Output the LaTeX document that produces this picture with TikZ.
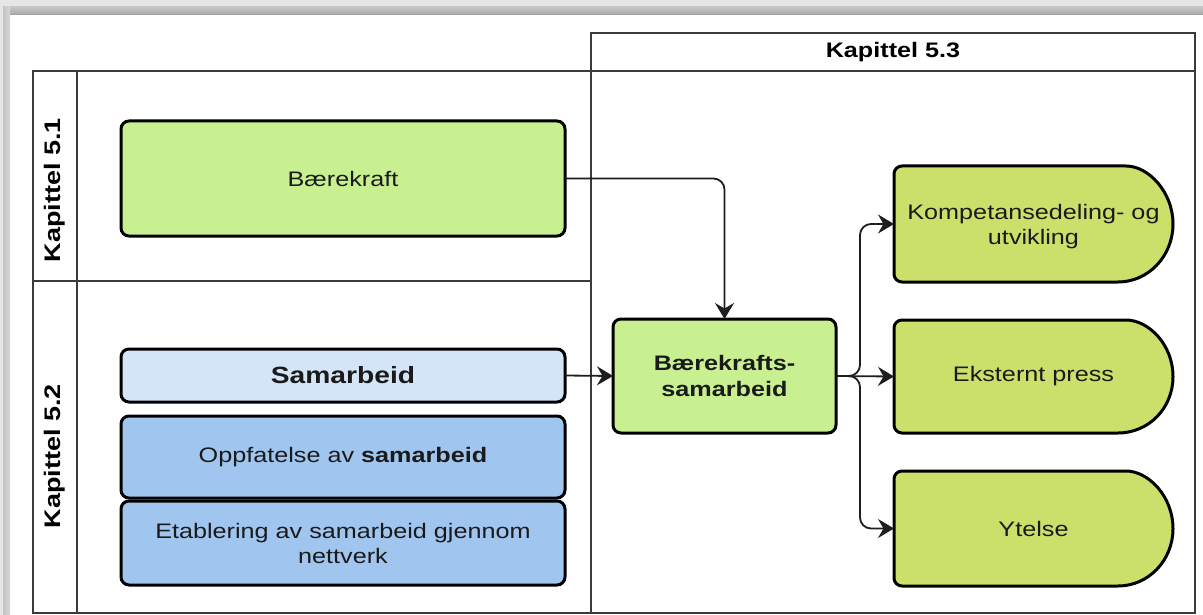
\documentclass[tikz,border=0pt]{standalone}
\usepackage{fontspec}
\setmainfont{Liberation Sans}[FakeStretch=1.2]
\usetikzlibrary{arrows.meta,calc}
\definecolor{greenA}{HTML}{C8F091}
\definecolor{greenB}{HTML}{CBE06A}
\definecolor{blueA}{HTML}{D4E5F7}
\definecolor{blueB}{HTML}{A0C6F0}
\definecolor{framecol}{HTML}{3A3A3A}
\definecolor{conncol}{HTML}{1E1E1E}
\definecolor{txtcol}{HTML}{1A1A1A}
\definecolor{shadeL}{HTML}{E6E6E6}
\definecolor{shadeM}{HTML}{C4C4C4}
\definecolor{shadeD}{HTML}{ACACAC}
\newcommand\delayshape[2]{%
  \draw[delayline, fill=#2] (#1.west) [rounded corners=8pt] -- (#1.north west)
    -- ($(#1.north east)+(-55,0)$) [sharp corners]
    .. controls ($(#1.north east)+(-24.6,0)$) and ($(#1.east)+(0,-32)$) .. (#1.east)
    .. controls ($(#1.east)+(0,32)$) and ($(#1.south east)+(-24.6,0)$) .. ($(#1.south east)+(-55,0)$)
    [rounded corners=8pt] -- (#1.south west) -- cycle;}
\begin{document}
\begin{tikzpicture}[x=1pt,y=-1pt,
  font=\fontsize{21}{25}\selectfont, text=txtcol,
  box/.style={draw=black, line width=3pt, rounded corners=8pt, inner sep=0pt, outer sep=0pt, align=center},
  delaynode/.style={inner sep=0pt, outer sep=0pt, align=center, minimum width=279pt},
  delayline/.style={draw=black, line width=3pt},
  lane/.style={draw=framecol, line width=2pt},
  lanelabel/.style={font=\fontsize{22.5}{26}\selectfont\bfseries, text=black},
  conn/.style={draw=conncol, line width=1.8pt, rounded corners=11pt,
    -{Stealth[length=16pt,width=19pt,inset=5.5pt]}},
]
\useasboundingbox (0,0) rectangle (1203,615);
\fill[white] (0,0) rectangle (1203,615);
% window shadow
\fill[shadeL] (0,0) rectangle (1203,7);
\shade[top color=shadeM, bottom color=shadeD] (3,7) rectangle (1203,14);
\fill[shadeL] (0,0) rectangle (3,615);
\shade[left color=shadeM, right color=shadeM!70!white] (3,7) rectangle (10,615);
\draw[gray!75, line width=1pt] (10,14.5) -- (1203,14.5);

% lanes
\draw[lane] (33,71) rectangle (591,613);
\draw[lane] (33,281) -- (591,281);
\draw[lane] (77,71) -- (77,613);
\draw[lane] (591,33) rectangle (1195,613);
\draw[lane] (591,71) -- (1195,71);
\node[lanelabel, rotate=90] (k51) at (55,190) {Kapittel 5.1};
\node[lanelabel, rotate=90] (k52) at (55,456) {Kapittel 5.2};
\node[lanelabel, font=\fontsize{21}{25}\selectfont\bfseries] (k53) at (893,52) {Kapittel 5.3};

% boxes
\node[box, fill=greenA, minimum width=444pt, minimum height=115pt] (bk) at (343,178.5) {Bærekraft};
\node[box, fill=blueA, minimum width=444pt, minimum height=53pt,
      font=\fontsize{23.5}{27}\selectfont\bfseries] (sam) at (343,375.5) {Samarbeid};
\node[box, fill=blueB, minimum width=444pt, minimum height=82pt] (opp) at (343,457) {Oppfatelse av \textbf{samarbeid}};
\node[box, fill=blueB, minimum width=444pt, minimum height=84pt] (eta) at (343,543) {Etablering av samarbeid gjennom\\nettverk};
\node[box, fill=greenA, minimum width=223pt, minimum height=114pt,
      font=\fontsize{21}{26}\selectfont\bfseries] (bks) at (724.5,376) {Bærekrafts-\\samarbeid};

% delay-shaped outcome nodes
\node[delaynode, minimum height=116pt] (komp) at (1033.5,224) {};
\delayshape{komp}{greenB}
\node[align=center, yshift=-3pt] (kompt) at (komp.center) {Kompetansedeling- og\\utvikling};
\node[delaynode, minimum height=113pt] (eks) at (1033.5,376.5) {};
\delayshape{eks}{greenB}
\node (ekst) at (eks.center) {Eksternt press};
\node[delaynode, minimum height=115pt] (yt) at (1033.5,528.5) {};
\delayshape{yt}{greenB}
\node (ytt) at (yt.center) {Ytelse};

% connectors
\draw[conn] (bk.east) -| (bks.north);
\draw[conn] (sam.east) -- (bks.west);
\coordinate (split) at ($(bks.east)+(24,0)$);
\draw[conn] (bks.east) -- (split) |- (komp.west);
\draw[conn] (bks.east) -- (eks.west);
\draw[conn] (bks.east) -- (split) |- (yt.west);
\end{tikzpicture}
\end{document}
